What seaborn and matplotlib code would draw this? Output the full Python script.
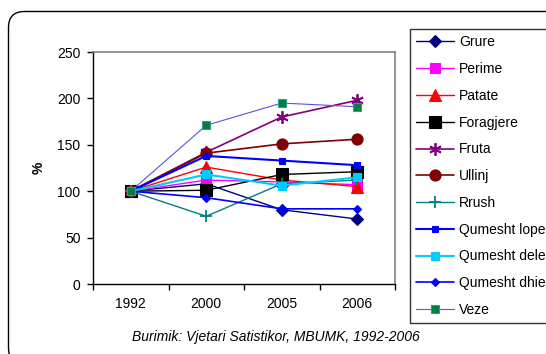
import numpy as np
import pandas as pd
import matplotlib
matplotlib.use("Agg")
import matplotlib.pyplot as plt
from matplotlib.patches import FancyBboxPatch
from matplotlib.transforms import IdentityTransform
import seaborn as sns

years = ["1992", "2000", "2005", "2006"]
grure = [100, 108, 80, 70]
perime = [100, 112, 110, 107]
patate = [100, 126, 112, 105]
foragjere = [100, 101, 118, 121]
fruta = [100, 142, 180, 198]
ullinj = [100, 141, 151, 156]
rrush = [100, 73, 108, 112]
qumesht_lope = [100, 138, 133, 128]
qumesht_dele = [100, 118, 106, 115]
qumesht_dhie = [100, 93, 81, 81]
veze = [100, 171, 195, 191]

names = ["Grure", "Perime", "Patate", "Foragjere", "Fruta", "Ullinj", "Rrush",
         "Qumesht lope", "Qumesht dele", "Qumesht dhie", "Veze"]
series = [grure, perime, patate, foragjere, fruta, ullinj, rrush,
          qumesht_lope, qumesht_dele, qumesht_dhie, veze]

styles = {
    "Grure": dict(color="#000080", marker="D", markersize=6, lw=1.0),
    "Perime": dict(color="#FF00FF", marker="s", markersize=7, lw=1.0),
    "Patate": dict(color="#FF0000", marker="^", markersize=8, lw=1.0),
    "Foragjere": dict(color="#000000", marker="s", markersize=9, lw=1.0),
    "Fruta": dict(color="#800080", marker=(6, 2, 0), markersize=9, lw=1.2),
    "Ullinj": dict(color="#800000", marker="o", markersize=8, lw=1.2),
    "Rrush": dict(color="#008080", marker="+", markersize=9, lw=1.0),
    "Qumesht lope": dict(color="#0000FF", marker="s", markersize=4.5, lw=1.5),
    "Qumesht dele": dict(color="#00CCFF", marker="s", markersize=5.5, lw=1.5),
    "Qumesht dhie": dict(color="#0000FF", marker="D", markersize=4.5, lw=1.2),
    "Veze": dict(color="#5555DD", marker="s", markersize=5.5, lw=0.8,
                 mfc="#007F3F", mec="#339999"),
}

sns.set_style("white")
plt.rcParams["font.family"] = ["Liberation Sans", "DejaVu Sans"]
plt.rcParams["font.size"] = 10
plt.rcParams["text.color"] = "black"
plt.rcParams["axes.labelcolor"] = "black"
plt.rcParams["xtick.color"] = "black"
plt.rcParams["ytick.color"] = "black"

fig = plt.figure(figsize=(5.46, 3.54), dpi=100)
fig.patch.set_facecolor("white")

# rounded chart-area frame
frame = FancyBboxPatch((8.5, -10), 600, 343 + 10 - 0.5,
                       boxstyle="round,pad=0,rounding_size=16",
                       transform=IdentityTransform(), fill=False,
                       edgecolor="black", linewidth=1.0, zorder=0)
fig.patches.append(frame)

ax = fig.add_axes([93 / 546, 1 - 284 / 354, (395 - 93) / 546, (284 - 52) / 354])
xpos = np.arange(len(years))
for name, vals in zip(names, series):
    st = dict(styles[name])
    color = st.pop("color")
    mfc = st.pop("mfc", color)
    mec = st.pop("mec", color)
    mew = 1.3 if name in ("Fruta", "Rrush") else 0.8
    sns.lineplot(x=xpos, y=vals, ax=ax, color=color, label=name, legend=False,
                 markerfacecolor=mfc, markeredgecolor=mec, markeredgewidth=mew,
                 **st)

ax.set_xlim(-0.5, len(years) - 0.5)
ax.set_ylim(0, 250)
ax.set_yticks([0, 50, 100, 150, 200, 250])
ax.set_xticks(np.arange(-0.5, len(years), 1.0))
ax.set_xticklabels([])
ax.set_xticks(xpos, minor=True)
ax.set_xticklabels(years, minor=True)
ax.tick_params(axis="x", which="major", bottom=True, direction="out", length=4, width=1, color="black")
ax.tick_params(axis="x", which="minor", bottom=True, length=0, pad=9, labelsize=10, labelcolor="black")
ax.tick_params(axis="y", left=True, direction="out", length=4, width=1, color="black", pad=5,
               labelsize=10, labelcolor="black")
ax.set_ylabel("%", fontsize=10, fontweight="bold", labelpad=8, color="black")
ax.set_xlabel("")
for s in ("top", "right"):
    ax.spines[s].set_color("#808080")
    ax.spines[s].set_linewidth(1.2)
for s in ("left", "bottom"):
    ax.spines[s].set_color("black")
    ax.spines[s].set_linewidth(1.0)
ax.grid(False)

handles, labels = ax.get_legend_handles_labels()
leg = fig.legend(handles, labels, loc="upper left",
                 bbox_to_anchor=(410 / 546, 1 - 29 / 354),
                 frameon=True, fancybox=False, edgecolor="black",
                 handlelength=2.7, handletextpad=0.4, borderpad=0.45,
                 labelspacing=0.92, borderaxespad=0, fontsize=10)
leg.get_frame().set_linewidth(1.0)
for t in leg.get_texts():
    t.set_color("black")

fig.text(276 / 546, 1 - 337 / 354, "Burimik: Vjetari Satistikor, MBUMK, 1992-2006",
         ha="center", va="center", style="italic", fontsize=10, color="black")

fig.savefig("out.png", dpi=100)
